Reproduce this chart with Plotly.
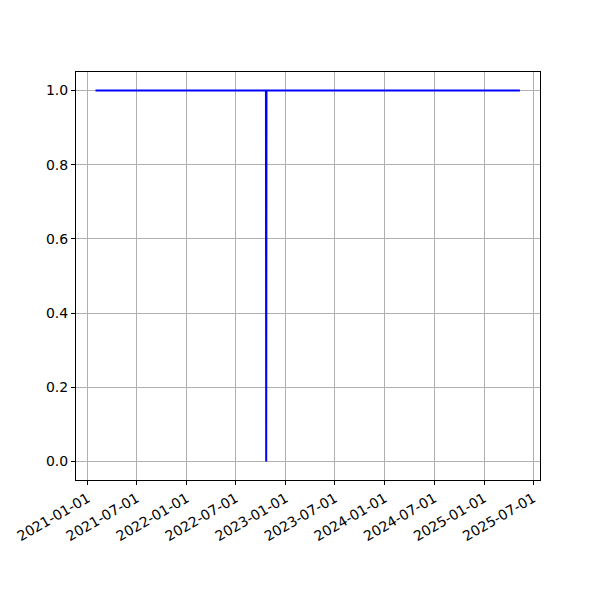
import plotly.graph_objects as go

dates = ["2021-01-30", "2022-10-20", "2022-10-21", "2022-10-22", "2025-05-13"]
values = [1, 1, 0, 1, 1]
x_ticks = ["2021-01-01", "2021-07-01", "2022-01-01", "2022-07-01", "2023-01-01",
           "2023-07-01", "2024-01-01", "2024-07-01", "2025-01-01", "2025-07-01"]
y_ticks = [0.0, 0.2, 0.4, 0.6, 0.8, 1.0]

fig = go.Figure()
fig.add_trace(go.Scatter(x=dates, y=values, mode="lines",
                         line=dict(color="blue", width=2), hoverinfo="skip"))

axis_common = dict(showline=True, linecolor="black", linewidth=1, mirror=True,
                   ticks="outside", ticklen=4, tickwidth=1, tickcolor="black",
                   showgrid=True, gridcolor="#b0b0b0", gridwidth=0.8,
                   zeroline=False, automargin=False,
                   tickfont=dict(family="DejaVu Sans", size=14, color="black"))

fig.update_xaxes(range=["2020-11-19", "2025-07-26"], tickvals=x_ticks, ticktext=x_ticks,
                 tickangle=-30, **axis_common)
fig.update_yaxes(range=[-0.05, 1.05], tickvals=y_ticks,
                 ticktext=[f"{v:.1f}" for v in y_ticks], **axis_common)

fig.update_layout(width=600, height=600, plot_bgcolor="white", paper_bgcolor="white",
                  margin=dict(l=68, r=68, t=64, b=128), showlegend=False)

fig.write_html("out.html")
